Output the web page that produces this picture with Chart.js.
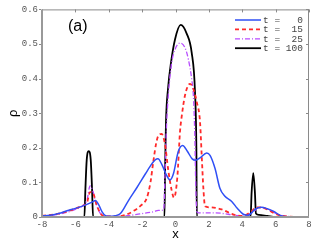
<!DOCTYPE html>
<html>
<head>
<meta charset="utf-8">
<script src="https://cdn.jsdelivr.net/npm/chart.js@4/dist/chart.umd.min.js"></script>
<style>
  html, body { margin: 0; padding: 0; background: #fff; }
  #wrap { width: 315px; height: 242px; }
</style>
</head>
<body>
<div id="wrap"><canvas id="chart" width="315" height="242"></canvas></div>
<script>
// t = 0
const t0X = [-8, -7.5, -7, -6.5, -6, -5.5, -5, -4.8, -4.6, -4.4, -4.2, -4, -3.6, -3.3, -2.8, -2.3, -1.8, -1.4, -1.2, -1.05, -0.83, -0.53, -0.33, -0.13, 0.17, 0.43, 0.71, 1.0, 1.2, 1.47, 1.87, 2.07, 2.37, 2.66, 2.96, 3.37, 3.7, 4.06, 4.36, 4.56, 4.76, 5.16, 5.5, 5.86, 6.36, 7, 8];
const t0Y = [0.003, 0.005, 0.01, 0.018, 0.025, 0.033, 0.043, 0.048, 0.035, 0.015, 0.004, 0.002, 0.004, 0.01, 0.049, 0.086, 0.125, 0.155, 0.166, 0.168, 0.153, 0.12, 0.107, 0.124, 0.19, 0.207, 0.19, 0.168, 0.164, 0.171, 0.185, 0.178, 0.14, 0.083, 0.06, 0.045, 0.025, 0.008, 0.005, 0.012, 0.022, 0.028, 0.024, 0.017, 0.003, 0, 0];

// t = 15
const t15X = [-8, -7, -6, -5.5, -5.32, -5.12, -4.92, -4.72, -4.42, -4.2, -3.5, -3, -2.53, -2.1, -1.72, -1.5, -1.33, -1.15, -1.03, -0.83, -0.63, -0.43, -0.23, -0.09, 0.11, 0.27, 0.37, 0.57, 0.87, 1.07, 1.27, 1.47, 1.57, 1.67, 1.77, 2.07, 2.77, 3.37, 3.97, 4.3, 4.56, 4.86, 5.36, 5.96, 6.6, 8];
const t15Y = [0.003, 0.01, 0.024, 0.034, 0.039, 0.072, 0.067, 0.034, 0.006, 0.002, 0.002, 0.006, 0.017, 0.032, 0.055, 0.1, 0.16, 0.215, 0.235, 0.24, 0.21, 0.134, 0.077, 0.056, 0.115, 0.247, 0.29, 0.352, 0.385, 0.37, 0.333, 0.275, 0.178, 0.083, 0.031, 0.028, 0.022, 0.009, 0.003, 0.008, 0.017, 0.028, 0.025, 0.01, 0.002, 0];

// t = 25
const t25X = [-8, -7, -6, -5.5, -5.3, -5.12, -4.95, -4.8, -4.62, -4.4, -4, -3, -2.13, -1.33, -1.03, -0.73, -0.69, -0.63, -0.55, -0.43, -0.23, -0.03, 0.27, 0.57, 0.77, 0.97, 1.07, 1.15, 1.22, 1.28, 1.37, 2.37, 3.16, 3.97, 4.4, 4.76, 4.96, 5.56, 6.1, 7, 8];
const t25Y = [0.002, 0.008, 0.022, 0.035, 0.05, 0.09, 0.075, 0.045, 0.02, 0.005, 0.002, 0.003, 0.009, 0.015, 0.019, 0.02, 0.03, 0.12, 0.25, 0.352, 0.446, 0.484, 0.503, 0.489, 0.456, 0.399, 0.352, 0.25, 0.08, 0.015, 0.012, 0.012, 0.008, 0.003, 0.008, 0.019, 0.028, 0.022, 0.008, 0.001, 0];

// t = 100
const t100X = [-8, -5.46, -5.4, -5.32, -5.2, -5.08, -5.0, -4.94, -0.66, -0.62, -0.57, -0.45, -0.27, -0.03, 0.31, 0.67, 0.97, 1.17, 1.25, 1.28, 4.5, 4.56, 4.66, 4.76, 4.82, 5.0, 5.5, 6, 8];
const t100Y = [0, 0, 0.08, 0.165, 0.19, 0.165, 0.08, 0, 0, 0.15, 0.276, 0.37, 0.446, 0.513, 0.555, 0.53, 0.475, 0.36, 0.2, 0, 0, 0.07, 0.127, 0.07, 0.01, 0.006, 0.003, 0, 0];

const seriesLabels = ['t =   0', 't =  15', 't =  25', 't = 100'];
const xTicks = [-8, -6, -4, -2, 0, 2, 4, 6, 8];
const yTicks = [0, 0.1, 0.2, 0.3, 0.4, 0.5, 0.6];

const colors = ['#2f4ff5', '#ff2a2a', '#b84cff', '#000000'];
const dashes = [[], [4, 3], [5, 2, 1, 2], []];
const widths = [1.5, 1.8, 1.3, 1.8];

function toPoints(xs, ys) {
    return xs.map((x, i) => ({ x: x, y: ys[i] }));
}

const seriesData = [
    toPoints(t0X, t0Y),
    toPoints(t15X, t15Y),
    toPoints(t25X, t25Y),
    toPoints(t100X, t100Y)
];

// frame, ticks, panel label and legend
const decorPlugin = {
    id: 'decor',
    afterDatasetsDraw(chart) {
        const ctx = chart.ctx;
        const area = chart.chartArea;
        const xs = chart.scales.x;
        const ys = chart.scales.y;
        ctx.save();

        // top and right border
        ctx.strokeStyle = '#8a8a8a';
        ctx.lineWidth = 1;
        ctx.beginPath();
        ctx.moveTo(area.left, area.top + 0.5);
        ctx.lineTo(area.right, area.top + 0.5);
        ctx.moveTo(area.right - 0.5, area.top);
        ctx.lineTo(area.right - 0.5, area.bottom);
        ctx.stroke();

        // inward ticks on top and right, short outward ticks on the left
        ctx.beginPath();
        xTicks.forEach(v => {
            const px = Math.round(xs.getPixelForValue(v)) + 0.5;
            ctx.moveTo(px, area.top);
            ctx.lineTo(px, area.top + 3);
        });
        yTicks.forEach(v => {
            const py = Math.round(ys.getPixelForValue(v)) + 0.5;
            ctx.moveTo(area.right, py);
            ctx.lineTo(area.right - 3, py);
            ctx.moveTo(area.left - 1, py);
            ctx.lineTo(area.left - 3, py);
        });
        ctx.stroke();

        // left and bottom axis lines
        ctx.strokeStyle = '#999999';
        ctx.lineWidth = 2;
        ctx.beginPath();
        ctx.moveTo(area.left, area.top);
        ctx.lineTo(area.left, area.bottom);
        ctx.lineTo(area.right, area.bottom);
        ctx.stroke();

        // panel label
        ctx.fillStyle = '#000';
        ctx.font = '16px "Liberation Sans", Arial, sans-serif';
        ctx.textAlign = 'left';
        ctx.textBaseline = 'middle';
        ctx.fillText('(a)', 68, 27);

        // legend
        const rowY = [20, 29.4, 38.8, 48.2];
        ctx.font = '9.5px "Liberation Mono", "DejaVu Sans Mono", monospace';
        seriesLabels.forEach((label, i) => {
            ctx.strokeStyle = colors[i];
            ctx.lineWidth = widths[i];
            ctx.setLineDash(dashes[i]);
            ctx.beginPath();
            ctx.moveTo(235, rowY[i]);
            ctx.lineTo(261, rowY[i]);
            ctx.stroke();
            ctx.setLineDash([]);
            ctx.fillStyle = '#444';
            ctx.fillText(label, 263, rowY[i] + 0.5);
        });
        ctx.restore();
    }
};

new Chart(document.getElementById('chart').getContext('2d'), {
    type: 'line',
    data: {
        datasets: seriesData.map((pts, i) => ({
            label: seriesLabels[i],
            data: pts,
            borderColor: colors[i],
            borderWidth: widths[i],
            borderDash: dashes[i],
            pointRadius: 0,
            fill: false,
            cubicInterpolationMode: 'monotone'
        }))
    },
    options: {
        responsive: false,
        animation: false,
        layout: { padding: { left: 0, top: 6, right: 6, bottom: 0 } },
        plugins: {
            legend: { display: false },
            tooltip: { enabled: false }
        },
        scales: {
            x: {
                type: 'linear',
                min: -8,
                max: 8,
                afterFit: s => { s.height = 25; },
                afterBuildTicks: s => { s.ticks = xTicks.map(v => ({ value: v })); },
                grid: { display: false, drawTicks: false },
                border: { display: false },
                ticks: {
                    padding: 2,
                    color: '#555',
                    font: { family: '"Liberation Mono", monospace', size: 9 },
                    maxRotation: 0,
                    callback: v => String(v)
                },
                title: {
                    display: true,
                    text: 'x',
                    color: '#000',
                    font: { family: '"Liberation Sans", Arial, sans-serif', size: 13 },
                    padding: { top: 0, bottom: 0 }
                }
            },
            y: {
                type: 'linear',
                min: 0,
                max: 0.6,
                afterFit: s => { s.width = 42; },
                afterBuildTicks: s => { s.ticks = yTicks.map(v => ({ value: v })); },
                grid: { display: false, drawTicks: false },
                border: { display: false },
                ticks: {
                    padding: 4,
                    color: '#555',
                    font: { family: '"Liberation Mono", monospace', size: 9 },
                    callback: v => v === 0 ? '0' : v.toFixed(1)
                },
                title: {
                    display: true,
                    text: 'ρ',
                    color: '#000',
                    font: { family: '"Liberation Sans", Arial, sans-serif', size: 13 },
                    padding: { top: 6, bottom: 0 }
                }
            }
        }
    },
    plugins: [decorPlugin]
});
</script>
</body>
</html>
